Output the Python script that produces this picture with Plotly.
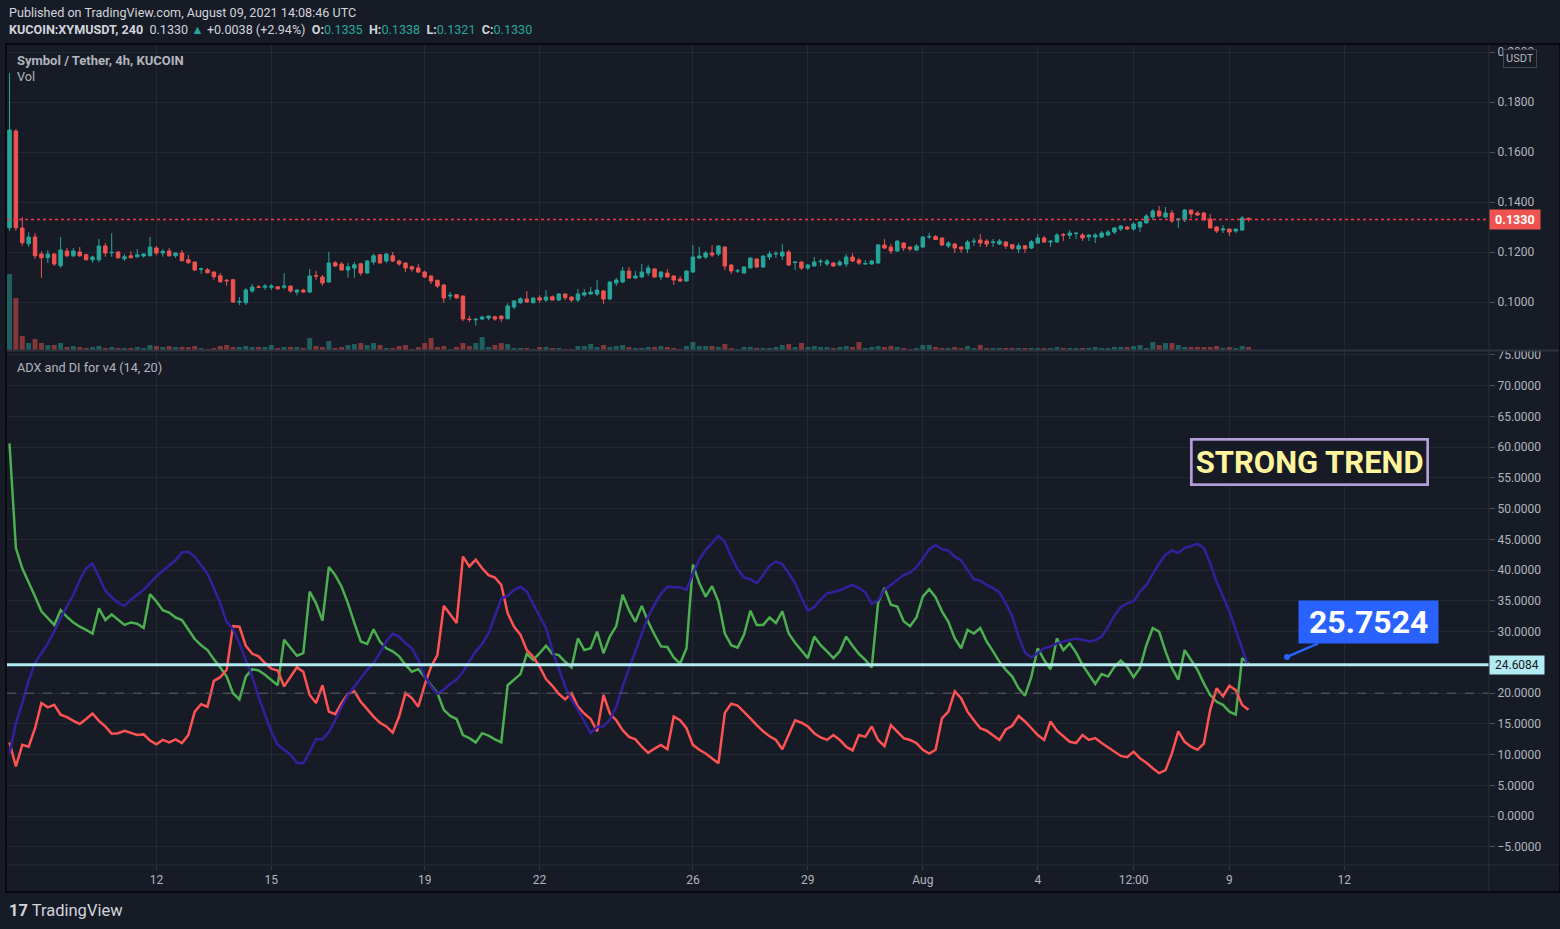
import pandas as pd
import plotly.graph_objects as go

BG = "#171b26"
GRID = "#242833"
TXT = "#b2b5be"
UP = "#26a69a"
DOWN = "#ef5350"
FONT = "Roboto"

times = pd.date_range("2021-07-08 04:00", periods=195, freq="4h")

open_ = [
    0.1297, 0.1684, 0.1296, 0.1233, 0.1260, 0.1192, 0.1177, 0.1192, 0.1145, 0.1204,
    0.1185, 0.1200, 0.1189, 0.1169, 0.1169, 0.1224, 0.1197, 0.1200, 0.1173, 0.1185,
    0.1181, 0.1184, 0.1185, 0.1216, 0.1196, 0.1204, 0.1185, 0.1196, 0.1169, 0.1160,
    0.1131, 0.1129, 0.1120, 0.1105, 0.1087, 0.1089, 0.1000, 0.0997, 0.1044, 0.1060,
    0.1059, 0.1059, 0.1061, 0.1059, 0.1064, 0.1040, 0.1048, 0.1040, 0.1105, 0.1100,
    0.1080, 0.1157, 0.1152, 0.1128, 0.1136, 0.1153, 0.1116, 0.1160, 0.1189, 0.1164,
    0.1185, 0.1164, 0.1156, 0.1141, 0.1136, 0.1120, 0.1104, 0.1087, 0.1068, 0.1024,
    0.1029, 0.1024, 0.0932, 0.0929, 0.0932, 0.0936, 0.0941, 0.0944, 0.0933, 0.0980,
    0.0997, 0.1012, 0.0997, 0.1017, 0.1008, 0.1021, 0.1008, 0.1032, 0.1020, 0.1008,
    0.1028, 0.1032, 0.1032, 0.1044, 0.1012, 0.1076, 0.1080, 0.1124, 0.1096, 0.1100,
    0.1116, 0.1132, 0.1100, 0.1116, 0.1104, 0.1092, 0.1084, 0.1120, 0.1176, 0.1180,
    0.1196, 0.1192, 0.1220, 0.1148, 0.1124, 0.1116, 0.1136, 0.1172, 0.1140, 0.1180,
    0.1192, 0.1184, 0.1200, 0.1158, 0.1160, 0.1136, 0.1144, 0.1161, 0.1152, 0.1156,
    0.1148, 0.1152, 0.1180, 0.1168, 0.1152, 0.1152, 0.1156, 0.1228, 0.1220, 0.1204,
    0.1236, 0.1220, 0.1208, 0.1220, 0.1260, 0.1262, 0.1256, 0.1224, 0.1232, 0.1220,
    0.1212, 0.1241, 0.1248, 0.1244, 0.1238, 0.1232, 0.1240, 0.1229, 0.1212, 0.1225,
    0.1216, 0.1236, 0.1256, 0.1240, 0.1240, 0.1269, 0.1267, 0.1274, 0.1268, 0.1260,
    0.1260, 0.1260, 0.1268, 0.1280, 0.1292, 0.1300, 0.1292, 0.1300, 0.1316, 0.1340,
    0.1364, 0.1340, 0.1356, 0.1328, 0.1328, 0.1368, 0.1356, 0.1356, 0.1332, 0.1300,
    0.1288, 0.1292, 0.1284, 0.1288, 0.1335,
]

high = [
    0.1916, 0.1692, 0.1340, 0.1279, 0.1275, 0.1203, 0.1208, 0.1195, 0.1260, 0.1216,
    0.1216, 0.1220, 0.1193, 0.1185, 0.1252, 0.1236, 0.1275, 0.1204, 0.1192, 0.1203,
    0.1212, 0.1195, 0.1260, 0.1224, 0.1211, 0.1216, 0.1198, 0.1208, 0.1188, 0.1162,
    0.1137, 0.1136, 0.1122, 0.1116, 0.1093, 0.1093, 0.1020, 0.1056, 0.1072, 0.1068,
    0.1072, 0.1072, 0.1064, 0.1116, 0.1066, 0.1050, 0.1053, 0.1132, 0.1124, 0.1108,
    0.1200, 0.1164, 0.1160, 0.1156, 0.1160, 0.1157, 0.1168, 0.1193, 0.1192, 0.1195,
    0.1200, 0.1169, 0.1158, 0.1145, 0.1152, 0.1125, 0.1108, 0.1089, 0.1072, 0.1040,
    0.1032, 0.1026, 0.0945, 0.0936, 0.0945, 0.0945, 0.0945, 0.0945, 0.0995, 0.1008,
    0.1019, 0.1044, 0.1019, 0.1027, 0.1048, 0.1027, 0.1036, 0.1034, 0.1022, 0.1052,
    0.1052, 0.1060, 0.1088, 0.1048, 0.1082, 0.1096, 0.1140, 0.1140, 0.1124, 0.1152,
    0.1148, 0.1136, 0.1124, 0.1132, 0.1108, 0.1104, 0.1126, 0.1228, 0.1220, 0.1204,
    0.1228, 0.1228, 0.1222, 0.1152, 0.1132, 0.1144, 0.1178, 0.1174, 0.1186, 0.1204,
    0.1204, 0.1232, 0.1208, 0.1162, 0.1162, 0.1152, 0.1180, 0.1172, 0.1172, 0.1160,
    0.1168, 0.1192, 0.1196, 0.1176, 0.1168, 0.1168, 0.1232, 0.1252, 0.1232, 0.1246,
    0.1238, 0.1222, 0.1232, 0.1264, 0.1276, 0.1268, 0.1258, 0.1244, 0.1236, 0.1222,
    0.1248, 0.1256, 0.1272, 0.1252, 0.1252, 0.1252, 0.1244, 0.1232, 0.1236, 0.1228,
    0.1248, 0.1272, 0.1264, 0.1248, 0.1276, 0.1276, 0.1288, 0.1280, 0.1276, 0.1272,
    0.1276, 0.1284, 0.1288, 0.1300, 0.1308, 0.1304, 0.1320, 0.1324, 0.1352, 0.1372,
    0.1384, 0.1380, 0.1368, 0.1336, 0.1372, 0.1368, 0.1364, 0.1360, 0.1352, 0.1304,
    0.1308, 0.1292, 0.1292, 0.1344, 0.1338,
]

low = [
    0.1285, 0.1285, 0.1225, 0.1221, 0.1173, 0.1097, 0.1156, 0.1145, 0.1137, 0.1179,
    0.1179, 0.1181, 0.1167, 0.1157, 0.1160, 0.1181, 0.1181, 0.1173, 0.1165, 0.1175,
    0.1177, 0.1177, 0.1185, 0.1187, 0.1181, 0.1181, 0.1177, 0.1163, 0.1153, 0.1125,
    0.1113, 0.1115, 0.1089, 0.1077, 0.1065, 0.0997, 0.0988, 0.0988, 0.1037, 0.1055,
    0.1048, 0.1048, 0.1048, 0.1052, 0.1037, 0.1027, 0.1037, 0.1036, 0.1089, 0.1065,
    0.1077, 0.1141, 0.1126, 0.1097, 0.1097, 0.1105, 0.1114, 0.1149, 0.1154, 0.1156,
    0.1160, 0.1145, 0.1120, 0.1121, 0.1116, 0.1096, 0.1072, 0.1056, 0.0997, 0.1009,
    0.1014, 0.0923, 0.0920, 0.0905, 0.0927, 0.0928, 0.0925, 0.0920, 0.0931, 0.0972,
    0.0993, 0.0996, 0.0995, 0.0996, 0.1000, 0.1006, 0.1004, 0.1008, 0.1000, 0.1000,
    0.1021, 0.1030, 0.1024, 0.0992, 0.1007, 0.1064, 0.1076, 0.1094, 0.1094, 0.1098,
    0.1104, 0.1098, 0.1088, 0.1098, 0.1068, 0.1080, 0.1082, 0.1116, 0.1172, 0.1172,
    0.1180, 0.1184, 0.1128, 0.1112, 0.1116, 0.1114, 0.1134, 0.1136, 0.1138, 0.1168,
    0.1176, 0.1168, 0.1144, 0.1128, 0.1128, 0.1128, 0.1144, 0.1144, 0.1144, 0.1140,
    0.1144, 0.1140, 0.1160, 0.1148, 0.1148, 0.1150, 0.1154, 0.1212, 0.1192, 0.1200,
    0.1204, 0.1204, 0.1204, 0.1216, 0.1252, 0.1248, 0.1224, 0.1216, 0.1196, 0.1196,
    0.1196, 0.1224, 0.1220, 0.1220, 0.1220, 0.1228, 0.1212, 0.1208, 0.1196, 0.1196,
    0.1212, 0.1232, 0.1236, 0.1220, 0.1236, 0.1244, 0.1252, 0.1252, 0.1244, 0.1244,
    0.1236, 0.1256, 0.1264, 0.1272, 0.1284, 0.1288, 0.1284, 0.1280, 0.1316, 0.1328,
    0.1340, 0.1336, 0.1316, 0.1296, 0.1320, 0.1336, 0.1344, 0.1328, 0.1296, 0.1276,
    0.1276, 0.1264, 0.1276, 0.1284, 0.1321,
]

close = [
    0.1688, 0.1297, 0.1237, 0.1260, 0.1185, 0.1177, 0.1192, 0.1152, 0.1208, 0.1185,
    0.1204, 0.1185, 0.1169, 0.1180, 0.1224, 0.1196, 0.1199, 0.1177, 0.1181, 0.1177,
    0.1189, 0.1192, 0.1220, 0.1196, 0.1203, 0.1185, 0.1196, 0.1165, 0.1157, 0.1128,
    0.1133, 0.1117, 0.1101, 0.1081, 0.1085, 0.1000, 0.1002, 0.1048, 0.1060, 0.1059,
    0.1064, 0.1064, 0.1053, 0.1064, 0.1044, 0.1048, 0.1040, 0.1104, 0.1104, 0.1076,
    0.1156, 0.1144, 0.1128, 0.1141, 0.1149, 0.1116, 0.1164, 0.1185, 0.1156, 0.1192,
    0.1164, 0.1152, 0.1136, 0.1132, 0.1120, 0.1100, 0.1084, 0.1064, 0.1016, 0.1027,
    0.1016, 0.0932, 0.0930, 0.0931, 0.0940, 0.0944, 0.0932, 0.0933, 0.0984, 0.1004,
    0.1013, 0.1000, 0.1016, 0.1008, 0.1020, 0.1008, 0.1032, 0.1017, 0.1008, 0.1032,
    0.1037, 0.1040, 0.1048, 0.1012, 0.1080, 0.1088, 0.1124, 0.1096, 0.1104, 0.1120,
    0.1136, 0.1100, 0.1120, 0.1100, 0.1088, 0.1084, 0.1124, 0.1180, 0.1184, 0.1196,
    0.1188, 0.1224, 0.1144, 0.1124, 0.1125, 0.1140, 0.1176, 0.1140, 0.1184, 0.1192,
    0.1194, 0.1200, 0.1148, 0.1160, 0.1136, 0.1148, 0.1160, 0.1163, 0.1164, 0.1144,
    0.1160, 0.1180, 0.1164, 0.1156, 0.1154, 0.1164, 0.1228, 0.1216, 0.1204, 0.1244,
    0.1216, 0.1212, 0.1224, 0.1260, 0.1262, 0.1250, 0.1228, 0.1236, 0.1216, 0.1212,
    0.1240, 0.1243, 0.1236, 0.1232, 0.1240, 0.1244, 0.1224, 0.1215, 0.1225, 0.1213,
    0.1241, 0.1256, 0.1240, 0.1243, 0.1268, 0.1268, 0.1276, 0.1275, 0.1256, 0.1268,
    0.1268, 0.1276, 0.1280, 0.1296, 0.1304, 0.1292, 0.1312, 0.1320, 0.1344, 0.1364,
    0.1344, 0.1356, 0.1324, 0.1332, 0.1368, 0.1352, 0.1348, 0.1328, 0.1296, 0.1284,
    0.1292, 0.1280, 0.1292, 0.1336, 0.1330,
]

# volume (arbitrary units)
volume = [
    76, 52, 14, 7, 11, 7, 5, 5, 7, 3,
    4, 3, 2, 3, 4, 2, 3, 2, 2, 2,
    3, 2, 5, 4, 3, 4, 3, 3, 3, 4,
    2, 1, 2, 4, 5, 3, 3, 4, 3, 3,
    3, 5, 2, 3, 3, 3, 2, 12, 4, 3,
    9, 2, 3, 5, 6, 7, 5, 7, 5, 2,
    2, 4, 5, 1, 3, 7, 12, 3, 4, 1,
    3, 7, 4, 7, 13, 3, 5, 7, 6, 2,
    2, 2, 1, 3, 3, 2, 2, 1, 1, 4,
    4, 6, 3, 5, 3, 4, 5, 3, 2, 2,
    3, 3, 4, 3, 2, 1, 4, 8, 4, 4,
    4, 3, 6, 2, 1, 3, 3, 2, 2, 2,
    3, 5, 6, 3, 7, 3, 4, 3, 3, 2,
    3, 4, 3, 8, 2, 3, 4, 3, 4, 3,
    2, 1, 2, 5, 5, 3, 2, 2, 3, 2,
    4, 2, 5, 2, 2, 2, 2, 2, 2, 2,
    2, 2, 2, 2, 3, 2, 2, 2, 2, 2,
    3, 2, 2, 3, 3, 3, 4, 5, 2, 8,
    5, 7, 7, 5, 3, 3, 3, 3, 3, 4,
    2, 3, 2, 4, 3,
]

plus_di = [
    60.6, 43.6, 40.3, 38.1, 35.7, 33.3, 32.2, 31.1, 33.5, 32.4,
    31.5, 30.8, 30.3, 29.7, 33.8, 31.9, 32.8, 32.0, 31.1, 31.5,
    31.3, 30.6, 36.1, 34.9, 33.5, 33.1, 32.3, 31.9, 30.3, 28.8,
    27.8, 27.0, 25.5, 24.2, 22.7, 20.0, 19.0, 22.7, 23.9, 23.7,
    23.0, 22.2, 21.3, 28.7, 27.3, 26.1, 26.5, 36.5, 34.6, 31.8,
    40.5, 39.2, 37.3, 34.6, 31.4, 28.4, 28.0, 30.4, 28.4, 27.3,
    26.8, 26.0, 24.6, 23.5, 23.9, 22.7, 21.3, 20.0, 17.3, 16.3,
    15.8, 13.2, 12.7, 12.0, 13.5, 13.1, 12.5, 12.0, 21.3, 22.2,
    23.1, 26.4, 25.4, 26.5, 27.7, 26.4, 26.2, 25.1, 24.2, 28.9,
    27.0, 27.3, 30.0, 26.5, 29.2, 30.9, 36.0, 33.5, 31.6, 34.2,
    31.6, 29.5, 27.6, 27.5, 25.8, 24.8, 27.3, 40.9, 37.9, 35.7,
    37.4, 34.9, 29.7, 27.8, 27.4, 29.5, 33.4, 31.1, 31.1, 32.3,
    31.4, 33.3, 29.7, 28.2, 26.9, 25.7, 29.2, 27.8, 26.8, 25.7,
    26.8, 29.2, 27.7, 26.4, 25.4, 24.2, 34.7, 37.1, 34.4, 34.1,
    31.7, 30.9, 32.3, 35.7, 36.9, 35.6, 33.3, 31.6, 28.9, 27.3,
    30.3, 29.7, 30.6, 28.4, 26.8, 25.1, 23.8, 22.7, 20.8, 19.6,
    22.7, 27.3, 25.4, 23.9, 28.9, 27.0, 28.1, 26.6, 24.6, 23.0,
    21.5, 23.1, 22.7, 24.3, 25.3, 24.3, 22.6, 24.1, 27.8, 30.6,
    30.0, 26.8, 24.1, 22.2, 27.0, 25.4, 23.8, 21.6, 19.7, 18.6,
    18.1, 17.0, 16.5, 25.7, 24.8,
]

minus_di = [
    12.0, 8.1, 11.6, 11.3, 14.3, 18.4, 17.7, 18.1, 16.5, 16.1,
    15.5, 15.0, 15.8, 16.7, 15.5, 14.6, 13.4, 13.5, 13.9, 13.6,
    13.2, 13.3, 12.3, 11.7, 12.4, 12.0, 12.5, 11.9, 13.2, 17.0,
    18.2, 17.8, 22.0, 22.6, 23.8, 30.9, 30.8, 27.7, 26.4, 26.0,
    24.9, 24.0, 23.7, 21.1, 22.6, 24.2, 23.5, 19.7, 18.4, 21.3,
    17.0, 16.6, 18.4, 19.9, 20.3, 18.6, 17.4, 16.2, 15.2, 14.6,
    13.6, 16.2, 20.0, 19.2, 17.8, 21.3, 24.3, 26.2, 34.2, 32.7,
    31.4, 42.2, 40.6, 41.7, 40.3, 39.2, 38.8, 37.6, 33.0, 30.8,
    29.5, 27.0, 25.9, 24.3, 22.3, 21.2, 19.9, 19.0, 20.0, 17.8,
    16.7, 15.8, 13.8, 19.7, 16.7, 15.6, 14.0, 12.9, 12.5, 11.3,
    10.3, 11.0, 11.6, 10.9, 16.2, 15.6, 14.3, 11.6, 10.8, 10.2,
    9.4, 8.6, 16.8, 18.3, 18.0, 17.0, 15.9, 14.8, 13.8, 13.0,
    12.4, 10.9, 13.2, 15.6, 15.2, 14.6, 13.5, 12.8, 12.4, 13.2,
    12.4, 11.3, 10.7, 13.2, 12.9, 14.6, 12.4, 11.4, 14.8, 13.8,
    12.7, 12.4, 11.9, 10.8, 10.2, 10.8, 15.9, 17.0, 20.3, 19.2,
    17.0, 15.6, 14.3, 13.9, 13.2, 12.4, 14.1, 14.7, 16.3, 15.4,
    14.3, 13.2, 12.4, 15.4, 13.9, 13.0, 12.1, 11.9, 13.2, 12.4,
    12.7, 11.9, 11.2, 10.5, 9.8, 9.6, 10.5, 9.4, 8.7, 7.8,
    7.0, 7.5, 10.2, 13.8, 12.1, 11.3, 10.8, 11.8, 17.3, 20.8,
    19.5, 21.2, 20.5, 18.1, 17.3,
]

adx = [
    10.2, 15.1, 18.4, 22.1, 24.9, 26.5, 28.1, 30.0, 32.2, 34.1,
    36.0, 38.4, 40.3, 41.1, 39.0, 36.7, 35.6, 34.7, 34.2, 35.2,
    36.0, 36.8, 37.9, 39.0, 39.9, 40.8, 41.6, 42.9, 43.0, 42.2,
    40.8, 39.4, 37.1, 34.6, 31.6, 30.4, 28.1, 25.4, 22.7, 19.4,
    16.7, 13.7, 11.6, 10.8, 10.0, 8.7, 8.6, 10.5, 12.5, 12.5,
    13.7, 15.6, 17.8, 19.7, 21.1, 22.4, 23.8, 24.9, 26.5, 28.4,
    29.7, 29.2, 28.1, 27.3, 25.4, 22.8, 21.1, 19.9, 20.6, 21.5,
    22.2, 23.5, 25.1, 26.8, 28.0, 29.7, 32.5, 35.4, 35.8, 36.8,
    37.3, 36.5, 34.5, 32.5, 30.6, 27.0, 24.0, 21.1, 18.9, 17.3,
    15.4, 13.5, 14.5, 14.6, 15.7, 17.8, 21.1, 24.0, 27.0, 29.9,
    32.5, 34.4, 36.2, 37.3, 37.3, 37.2, 36.8, 39.5, 41.7, 43.3,
    44.4, 45.6, 44.6, 42.2, 40.2, 38.8, 38.5, 37.9, 39.2, 40.7,
    41.4, 41.0, 39.5, 37.9, 35.5, 33.4, 34.0, 35.2, 36.2, 36.5,
    36.7, 37.2, 37.6, 37.1, 36.4, 34.5, 35.1, 36.8, 37.6, 38.5,
    39.2, 39.6, 40.5, 41.9, 43.4, 44.1, 43.4, 43.2, 42.2, 41.6,
    40.0, 38.5, 38.3, 37.6, 37.1, 36.4, 34.6, 32.5, 29.2, 26.6,
    25.8, 26.5, 27.3, 27.6, 28.1, 28.4, 28.7, 28.9, 28.7, 28.4,
    28.6, 29.2, 30.8, 32.6, 34.0, 34.6, 34.9, 36.5, 37.6, 39.4,
    41.1, 42.5, 43.2, 42.8, 43.6, 43.9, 44.3, 43.6, 41.1, 38.1,
    35.7, 33.3, 30.3, 27.3, 24.3,
]

key_level = 24.6084
di_threshold = 20
last_price = 0.1330
callout_value = "25.7524"

price_ticks = [0.10, 0.12, 0.14, 0.16, 0.18, 0.20]
adx_ticks = [75, 70, 65, 60, 55, 50, 45, 40, 35, 30, 20, 15, 10, 5, 0, -5]
time_tick_vals = ["2021-07-12", "2021-07-15", "2021-07-19", "2021-07-22", "2021-07-26",
                  "2021-07-29", "2021-08-01", "2021-08-04", "2021-08-06 12:00",
                  "2021-08-09", "2021-08-12"]
time_tick_text = ["12", "15", "19", "22", "26", "29", "Aug", "4", "12:00", "9", "12"]

x_range = ["2021-07-08 02:26", "2021-08-15 18:36"]

vol_colors = ["rgba(38,166,154,0.5)" if c >= o else "rgba(239,83,80,0.5)"
              for o, c in zip(open_, close)]

fig = go.Figure()
fig.add_trace(go.Bar(x=times, y=volume, marker=dict(color=vol_colors, line_width=0),
                     xaxis="x", yaxis="y3", hoverinfo="skip"))
fig.add_trace(go.Candlestick(
    x=times, open=open_, high=high, low=low, close=close,
    increasing=dict(line=dict(color=UP, width=1), fillcolor=UP),
    decreasing=dict(line=dict(color=DOWN, width=1), fillcolor=DOWN),
    whiskerwidth=0, xaxis="x", yaxis="y", hoverinfo="skip"))
fig.add_trace(go.Scatter(x=times, y=plus_di, mode="lines", line=dict(color="#4caf50", width=2.5),
                         xaxis="x2", yaxis="y2", hoverinfo="skip"))
fig.add_trace(go.Scatter(x=times, y=minus_di, mode="lines", line=dict(color="#ff5252", width=2.5),
                         xaxis="x2", yaxis="y2", hoverinfo="skip"))
fig.add_trace(go.Scatter(x=times, y=adx, mode="lines", line=dict(color="#34209e", width=2.5),
                         xaxis="x2", yaxis="y2", hoverinfo="skip"))

axis_font = dict(family=FONT, size=12, color=TXT)

fig.update_layout(
    width=1560, height=929,
    margin=dict(l=7, r=71, t=45, b=64),
    paper_bgcolor=BG, plot_bgcolor=BG,
    showlegend=False, hovermode=False,
    bargap=0.22, boxgap=0.22,
    font=dict(family=FONT, color=TXT),
    xaxis=dict(domain=[0, 1], anchor="y", type="date", range=x_range,
               tickvals=time_tick_vals, showticklabels=False, showgrid=True,
               gridcolor=GRID, zeroline=False, showline=False,
               rangeslider=dict(visible=False)),
    yaxis=dict(domain=[0.628, 1], side="right", range=[0.0808, 0.2028],
               tickvals=price_ticks, tickformat=".4f", showgrid=True, gridcolor=GRID,
               zeroline=False, ticks="outside", ticklen=5, tickcolor="#4a4e59",
               tickfont=axis_font),
    yaxis3=dict(overlaying="y", range=[0, 305], visible=False),
    xaxis2=dict(domain=[0, 1], anchor="y2", type="date", range=x_range,
                tickvals=time_tick_vals, ticktext=time_tick_text, showgrid=True,
                gridcolor=GRID, zeroline=False, showline=False, ticks="outside",
                ticklen=4, tickcolor="#363a45", tickfont=axis_font),
    yaxis2=dict(domain=[0, 0.627], side="right", range=[-7.93, 75.65],
                tickvals=adx_ticks, tickformat=".4f", showgrid=True, gridcolor=GRID,
                zeroline=False, ticks="outside", ticklen=5, tickcolor="#4a4e59",
                tickfont=axis_font),
)

shapes = [
    # last price dotted line
    dict(type="line", xref="paper", yref="y", x0=0, x1=1, y0=last_price, y1=last_price,
         line=dict(color="#f23645", width=1.4, dash="dot")),
    # DI threshold dashed line
    dict(type="line", xref="paper", yref="y2", x0=0, x1=1, y0=di_threshold, y1=di_threshold,
         line=dict(color="#5d606b", width=1, dash="dash")),
    # key horizontal level
    dict(type="line", xref="paper", yref="y2", x0=0, x1=1, y0=key_level, y1=key_level,
         line=dict(color="#b2ebf2", width=3), layer="above"),
    # pane separator
    dict(type="line", xref="paper", yref="paper", x0=-0.001, x1=1.048, y0=0.6274, y1=0.6274,
         line=dict(color="#2e323d", width=2)),
    # price scale separator
    dict(type="line", xref="paper", yref="paper", x0=1, x1=1, y0=-0.033, y1=1.001,
         line=dict(color="#2a2e39", width=1)),
    # time axis top line
    dict(type="line", xref="paper", yref="paper", x0=0, x1=1.048, y0=0, y1=0,
         line=dict(color="#2a2e39", width=1)),
    # outer frame
    dict(type="rect", xref="paper", yref="paper", x0=-0.0007, x1=1.0479, y0=-0.0329, y1=1.0012,
         line=dict(color="#050608", width=1.5)),
]
fig.update_layout(shapes=shapes)

teal = UP
header2 = ("<b>KUCOIN:XYMUSDT, 240</b>  0.1330 <span style='color:%s'>▲</span> +0.0038 (+2.94%%)  "
           "<b>O:</b><span style='color:%s'>0.1335</span>  <b>H:</b><span style='color:%s'>0.1338</span>  "
           "<b>L:</b><span style='color:%s'>0.1321</span>  <b>C:</b><span style='color:%s'>0.1330</span>"
           % (teal, teal, teal, teal, teal))

annotations = [
    dict(xref="paper", yref="paper", x=0, y=1.0402, xanchor="left", yanchor="middle",
         text="Published on TradingView.com, August 09, 2021 14:08:46 UTC", showarrow=False,
         font=dict(family=FONT, size=12.6, color="#d1d4dc")),
    dict(xref="paper", yref="paper", x=0, y=1.0195, xanchor="left", yanchor="middle",
         text=header2, showarrow=False, font=dict(family=FONT, size=12.6, color="#d1d4dc")),
    dict(xref="paper", yref="paper", x=0.0054, y=0.9817, xanchor="left", yanchor="middle",
         text="<b>Symbol / Tether, 4h, KUCOIN</b>", showarrow=False,
         font=dict(family=FONT, size=13, color=TXT)),
    dict(xref="paper", yref="paper", x=0.0054, y=0.961, xanchor="left", yanchor="middle",
         text="Vol", showarrow=False, font=dict(family=FONT, size=12.7, color=TXT)),
    dict(xref="paper", yref="paper", x=0.0054, y=0.6073, xanchor="left", yanchor="middle",
         text="ADX and DI for v4 (14, 20)", showarrow=False,
         font=dict(family=FONT, size=12.7, color=TXT)),
    # price label
    dict(xref="paper", yref="y", x=1, y=last_price, xanchor="left", yanchor="middle",
         text="&nbsp;<b>0.1330</b>&nbsp;", showarrow=False, bgcolor=DOWN, borderpad=2,
         font=dict(family=FONT, size=12.5, color="#ffffff")),
    # key level label
    dict(xref="paper", yref="y2", x=1, y=key_level, xanchor="left", yanchor="middle",
         text="&nbsp;24.6084&nbsp;", showarrow=False, bgcolor="#b2ebf2", borderpad=2,
         font=dict(family=FONT, size=12, color="#131722")),
    # USDT box
    dict(xref="paper", yref="paper", x=1.0209, y=0.983, xanchor="center", yanchor="middle",
         text="USDT", showarrow=False, bgcolor=BG, bordercolor="#434651", borderwidth=1,
         borderpad=2, font=dict(family=FONT, size=11, color=TXT)),
    # STRONG TREND
    dict(xref="paper", yref="paper", x=0.8792, y=0.492, xanchor="center", yanchor="middle",
         text="<b>STRONG TREND</b>", showarrow=False, bordercolor="#b39ddb", borderwidth=2.7,
         borderpad=3, bgcolor=BG, font=dict(family=FONT, size=31, color="#fff59d")),
    # callout
    dict(xref="paper", yref="paper", x=0.8637, y=0.2537, ax=81, ay=-35,
         text="&nbsp;<b>" + callout_value + "</b>&nbsp;", showarrow=True, arrowhead=6,
         arrowsize=0.6, arrowwidth=2.5, arrowcolor="#2962ff", bgcolor="#2962ff", borderpad=2,
         font=dict(family=FONT, size=32, color="#ffffff")),
    # footer logo
    dict(xref="paper", yref="paper", x=0, y=-0.0549, xanchor="left", yanchor="middle",
         text="<b>17</b> TradingView", showarrow=False,
         font=dict(family=FONT, size=16.5, color="#d1d4dc")),
]
fig.update_layout(annotations=annotations)

fig.write_html("out.html", config={"displayModeBar": False},
               post_script="document.body.style.margin='0px';")
